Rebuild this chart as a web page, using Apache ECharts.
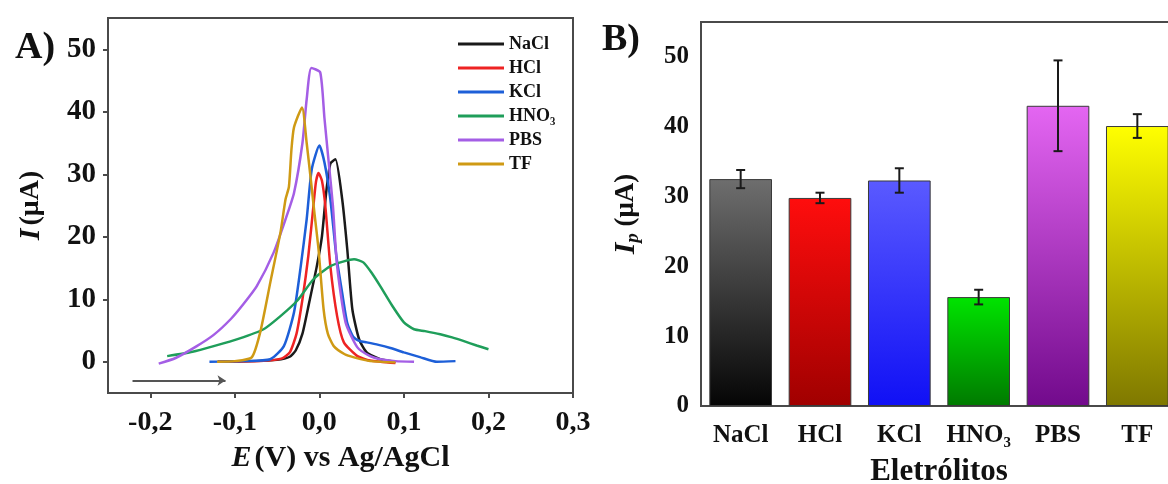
<!DOCTYPE html>
<html>
<head>
<meta charset="utf-8">
<title>Eletrólitos</title>
<script src="https://cdn.jsdelivr.net/npm/echarts@6/dist/echarts.min.js"></script>
<style>
  html, body { margin: 0; padding: 0; background: #fff; }
  #chart { width: 1168px; height: 484px; }
</style>
</head>
<body>
<div id="chart"></div>
<script>
// A) voltamogramas: pares [E (V), I (uA)]
var nacl = [[-0.12,0],[-0.08,0.1],[-0.05,0.3],[-0.035,0.8],[-0.028,1.8],[-0.02,4.5],[-0.012,9.5],[-0.003,15.3],[0.003,20],[0.008,27],[0.013,31.7],[0.019,32.4],[0.027,26],[0.033,18],[0.039,8.4],[0.047,3.6],[0.056,1.5],[0.072,0.4],[0.09,0]];
var hcl = [[-0.12,0],[-0.07,0.1],[-0.045,0.5],[-0.035,1.5],[-0.027,4.5],[-0.02,10],[-0.013,17],[-0.007,25],[-0.004,28.8],[-0.001,30.2],[0.003,29],[0.007,25],[0.013,15.3],[0.021,7.3],[0.029,3.1],[0.045,0.9],[0.06,0.2],[0.09,-0.2]];
var kcl = [[-0.13,0],[-0.09,0.1],[-0.058,0.4],[-0.042,2.5],[-0.03,7.9],[-0.022,15.3],[-0.015,22.8],[-0.009,30.8],[0.0,34.6],[0.006,31.9],[0.013,26],[0.02,17],[0.027,11],[0.033,6.2],[0.04,4],[0.048,3.3],[0.056,3.1],[0.07,2.7],[0.084,2.2],[0.1,1.5],[0.12,0.7],[0.139,0],[0.161,0.1]];
var hno3 = [[-0.18,0.9],[-0.15,1.6],[-0.125,2.5],[-0.095,3.7],[-0.066,5.2],[-0.046,7.3],[-0.026,9.8],[-0.007,13.2],[0.013,15.3],[0.03,16.1],[0.041,16.4],[0.052,15.9],[0.062,14.2],[0.072,12.1],[0.086,9],[0.1,6.3],[0.112,5.2],[0.125,4.9],[0.143,4.4],[0.157,3.9],[0.171,3.3],[0.186,2.6],[0.2,2.0]];
var pbs = [[-0.19,-0.3],[-0.17,0.6],[-0.145,2.5],[-0.125,4.3],[-0.105,6.8],[-0.09,9.2],[-0.074,12.1],[-0.054,17.5],[-0.04,22.8],[-0.03,27],[-0.02,35],[-0.015,42],[-0.0095,47],[0.001,46.3],[0.006,39],[0.011,32],[0.016,25],[0.021,15.3],[0.031,6.3],[0.045,2.3],[0.06,0.9],[0.072,0.4],[0.09,0.1],[0.112,0]];
var tf = [[-0.121,0],[-0.1,0.1],[-0.08,0.7],[-0.07,4.7],[-0.058,12.7],[-0.046,20.7],[-0.04,26],[-0.036,28],[-0.033,34],[-0.03,37.5],[-0.0205,40.7],[-0.015,35],[-0.01,29],[-0.006,24],[-0.001,18],[0.005,8.4],[0.01,4.5],[0.017,2.5],[0.03,1.2],[0.041,0.7],[0.06,0.1],[0.09,-0.1]];
var sweepArrow = [[-0.221,-3],[-0.111,-3]];

// B) corrente de pico por eletrólito
var categories = ['NaCl', 'HCl', 'KCl', 'HNO₃', 'PBS', 'TF'];
var ipMean = [32.5, 29.8, 32.3, 15.6, 43.0, 40.1];
var ipErr = [1.3, 0.75, 1.75, 1.05, 6.5, 1.7];

var serif = "'Liberation Serif', 'Times New Roman', serif";
var axisGray = '#4a4a4a';

var curveNames = ['NaCl', 'HCl', 'KCl', 'HNO₃', 'PBS', 'TF'];
var curveData = [nacl, hcl, kcl, hno3, pbs, tf];
var curveColors = ['#1a1a1a', '#ee2323', '#1d5fd8', '#1f9e5a', '#a45ee5', '#cf9a14'];

// topo -> base do gradiente de cada barra
var barGrad = [
  ['#6e6e6e', '#050505'],
  ['#ff0d0d', '#a00000'],
  ['#5a5aff', '#1010f5'],
  ['#00e400', '#007a00'],
  ['#e466f2', '#720a8c'],
  ['#ffff00', '#7f7800']
];

function tickFmt(dec) {
  return function (v) {
    var k = v * Math.pow(10, dec === 1 ? 1 : -1);
    if (Math.abs(k - Math.round(k)) > 1e-6) return '';
    return dec === 1 ? v.toFixed(1).replace('.', ',') : String(Math.round(v));
  };
}

var series = curveData.map(function (d, i) {
  return {
    name: curveNames[i],
    type: 'line',
    xAxisIndex: 0,
    yAxisIndex: 0,
    data: d,
    smooth: 0.2,
    showSymbol: false,
    symbol: 'none',
    lineStyle: { width: 2.5, color: curveColors[i] },
    itemStyle: { color: curveColors[i] },
    z: 3 + i
  };
});

series.push({
  type: 'lines',
  coordinateSystem: 'cartesian2d',
  xAxisIndex: 0,
  yAxisIndex: 0,
  symbol: ['none', 'arrow'],
  symbolSize: 8,
  lineStyle: { color: '#555', width: 2, opacity: 1 },
  data: [{ coords: sweepArrow }],
  silent: true
});

series.push({
  name: 'Ip',
  type: 'bar',
  xAxisIndex: 1,
  yAxisIndex: 1,
  barCategoryGap: '21%',
  data: ipMean.map(function (v, i) {
    return {
      value: v,
      itemStyle: {
        color: new echarts.graphic.LinearGradient(0, 0, 0, 1, [
          { offset: 0, color: barGrad[i][0] },
          { offset: 1, color: barGrad[i][1] }
        ]),
        borderColor: '#3a3a3a',
        borderWidth: 1
      }
    };
  })
});

series.push({
  type: 'custom',
  xAxisIndex: 1,
  yAxisIndex: 1,
  data: ipMean.map(function (v, i) { return [i, v - ipErr[i], v + ipErr[i]]; }),
  renderItem: function (params, api) {
    var lo = api.coord([api.value(0), api.value(1)]);
    var hi = api.coord([api.value(0), api.value(2)]);
    var w = 4.5;
    var st = { stroke: '#1a1a1a', lineWidth: 2 };
    return {
      type: 'group',
      children: [
        { type: 'line', shape: { x1: lo[0], y1: lo[1], x2: hi[0], y2: hi[1] }, style: st },
        { type: 'line', shape: { x1: lo[0] - w, y1: lo[1], x2: lo[0] + w, y2: lo[1] }, style: st },
        { type: 'line', shape: { x1: hi[0] - w, y1: hi[1], x2: hi[0] + w, y2: hi[1] }, style: st }
      ]
    };
  },
  z: 10
});

var option = {
  animation: false,
  backgroundColor: '#fff',
  textStyle: { fontFamily: serif, fontWeight: 'bold', color: '#111' },
  title: [
    { text: 'A)', left: 10, top: 24, textStyle: { fontFamily: serif, fontWeight: 'bold', fontSize: 38, color: '#111' } },
    { text: 'B)', left: 597, top: 16, textStyle: { fontFamily: serif, fontWeight: 'bold', fontSize: 38, color: '#111' } }
  ],
  legend: {
    data: curveNames,
    orient: 'vertical',
    left: 453,
    top: 30,
    icon: 'rect',
    itemWidth: 46,
    itemHeight: 3,
    itemGap: 6,
    textStyle: { fontFamily: serif, fontWeight: 'bold', fontSize: 18, color: '#111' }
  },
  grid: [
    { left: 108, top: 18, width: 465, height: 375, show: true, borderColor: axisGray, borderWidth: 2, outerBoundsMode: 'none' },
    { left: 701, top: 22, width: 476, height: 384, show: true, borderColor: axisGray, borderWidth: 2, outerBoundsMode: 'none' }
  ],
  xAxis: [
    {
      gridIndex: 0,
      type: 'value',
      min: -0.25,
      max: 0.3,
      splitNumber: 5,
      name: '{i|E} {n|(V) vs Ag/AgCl}',
      nameLocation: 'middle',
      nameGap: 50,
      nameTextStyle: {
        rich: {
          i: { fontFamily: serif, fontWeight: 'bold', fontStyle: 'italic', fontSize: 30, color: '#111' },
          n: { fontFamily: serif, fontWeight: 'bold', fontSize: 30, color: '#111' }
        }
      },
      axisLine: { onZero: false, lineStyle: { color: axisGray, width: 2 } },
      axisTick: { length: 5, lineStyle: { color: axisGray, width: 2 } },
      axisLabel: { formatter: tickFmt(1), showMinLabel: false, margin: 16, fontFamily: serif, fontWeight: 'bold', fontSize: 28, color: '#111' },
      splitLine: { show: false }
    },
    {
      gridIndex: 1,
      type: 'category',
      data: categories,
      name: 'Eletrólitos',
      nameLocation: 'middle',
      nameGap: 50,
      nameTextStyle: { fontFamily: serif, fontWeight: 'bold', fontSize: 31, color: '#111' },
      axisLine: { onZero: false, lineStyle: { color: axisGray, width: 2 } },
      axisTick: { alignWithLabel: true, length: 6, lineStyle: { color: axisGray, width: 2 } },
      axisLabel: { interval: 0, margin: 17, fontFamily: serif, fontWeight: 'bold', fontSize: 25, color: '#111' }
    }
  ],
  yAxis: [
    {
      gridIndex: 0,
      type: 'value',
      min: -5,
      max: 55,
      splitNumber: 6,
      name: '{i|I} {n|(μA)}',
      nameLocation: 'middle',
      nameRotate: 90,
      nameGap: 62,
      nameTextStyle: {
        rich: {
          i: { fontFamily: serif, fontWeight: 'bold', fontStyle: 'italic', fontSize: 30, color: '#111' },
          n: { fontFamily: serif, fontWeight: 'bold', fontSize: 28, color: '#111' }
        }
      },
      axisLine: { onZero: false, lineStyle: { color: axisGray, width: 2 } },
      axisTick: { length: 5, lineStyle: { color: axisGray, width: 2 } },
      axisLabel: { formatter: tickFmt(0), showMinLabel: false, showMaxLabel: false, margin: 12, fontFamily: serif, fontWeight: 'bold', fontSize: 29, color: '#111' },
      splitLine: { show: false }
    },
    {
      gridIndex: 1,
      type: 'value',
      min: 0,
      max: 55,
      interval: 10,
      name: '{i|I}{s|p}{n| (μA)}',
      nameLocation: 'middle',
      nameRotate: 90,
      nameGap: 58,
      nameTextStyle: {
        rich: {
          i: { fontFamily: serif, fontWeight: 'bold', fontStyle: 'italic', fontSize: 30, color: '#111' },
          s: { fontFamily: serif, fontWeight: 'bold', fontStyle: 'italic', fontSize: 19, color: '#111', padding: [14, 0, 0, 0] },
          n: { fontFamily: serif, fontWeight: 'bold', fontSize: 27, color: '#111' }
        }
      },
      axisLine: { onZero: false, lineStyle: { color: axisGray, width: 2 } },
      axisTick: { length: 5, lineStyle: { color: axisGray, width: 2 } },
      axisLabel: { formatter: tickFmt(0), showMaxLabel: false, margin: 12, fontFamily: serif, fontWeight: 'bold', fontSize: 25, color: '#111' },
      splitLine: { show: false }
    }
  ],
  series: series
};

var chart = echarts.init(document.getElementById('chart'));
chart.setOption(option);
</script>
</body>
</html>
